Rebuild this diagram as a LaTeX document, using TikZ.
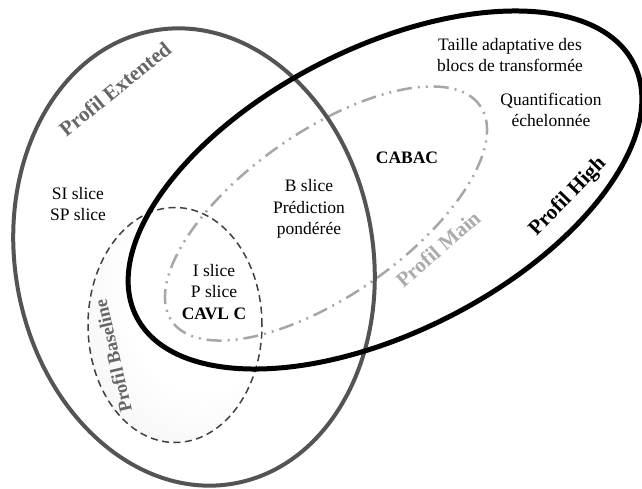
\documentclass[tikz,border=0pt]{standalone}
\usepackage{fontspec}
\setmainfont{Liberation Serif}
\tikzstyle{profilExt}=[draw=black!67, line width=4pt]
\tikzstyle{profilHigh}=[draw=black, line width=5pt]
\tikzstyle{profilMain}=[draw=black!35, line width=2.5pt, dash pattern=on 15pt off 6pt on 2pt off 6pt on 2pt off 6pt]
\tikzstyle{profilBase}=[draw=black!75, line width=1.5pt, dash pattern=on 7pt off 4.5pt]
\tikzstyle{feature}=[align=center, inner sep=0pt, font=\fontsize{17.5}{21.5}\selectfont]
\tikzstyle{profilLabel}=[inner sep=0pt, font=\fontsize{21}{24}\selectfont\bfseries]
\pgfdeclareradialshading{baseGlow}{\pgfpoint{12bp}{12bp}}{color(0bp)=(white); color(22bp)=(white); color(62bp)=(black!11)}

\begin{document}
\begin{tikzpicture}[x=1pt, y=1pt]
	\useasboundingbox (0,0) rectangle (642,-489);
	% Profils (ellipses)
	\shade[shading=baseGlow] (175,-325) ellipse [x radius=87, y radius=117.5];
	\draw[profilMain, rotate around={35:(326,-213.5)}] (326,-213.5) ellipse [x radius=188, y radius=82];
	\draw[profilBase] (175,-325) ellipse [x radius=87, y radius=117.5];
	\draw[profilExt, rotate around={10:(194,-257)}] (194,-257) ellipse [x radius=179, y radius=230];
	\draw[profilHigh, rotate around={27:(385,-190)}] (385,-190) ellipse [x radius=279, y radius=142];

	% Noms des profils
	\node[profilLabel, text=black!60, rotate=39] (extLabel) at (115,-89) {Profil Extented};
	\node[profilLabel, text=black!33, rotate=41] (mainLabel) at (438,-249) {Profil Main};
	\node[profilLabel, text=black, rotate=46] (highLabel) at (568,-197) {Profil High};
	\node[profilLabel, text=black!60, rotate=103, font=\fontsize{18.5}{21}\selectfont\bfseries] (baseLabel) at (113,-356) {Profil Baseline};

	% Outils
	\node[feature] (taille) at (510,-55) {Taille adaptative des\\blocs de transformée};
	\node[feature] (quantif) at (551,-110) {Quantification\\échelonnée};
	\node[feature, font=\fontsize{17.5}{21.5}\selectfont\bfseries] (cabac) at (407,-158) {CABAC};
	\node[feature] (bslice) at (309,-209) {B slice\\Prédiction\\pondérée};
	\node[feature] (sislice) at (78,-204) {SI slice\\SP slice};
	\node[feature] (islice) at (214,-292) {I slice\\P slice\\\textbf{CAVL C}};
\end{tikzpicture}
\end{document}
